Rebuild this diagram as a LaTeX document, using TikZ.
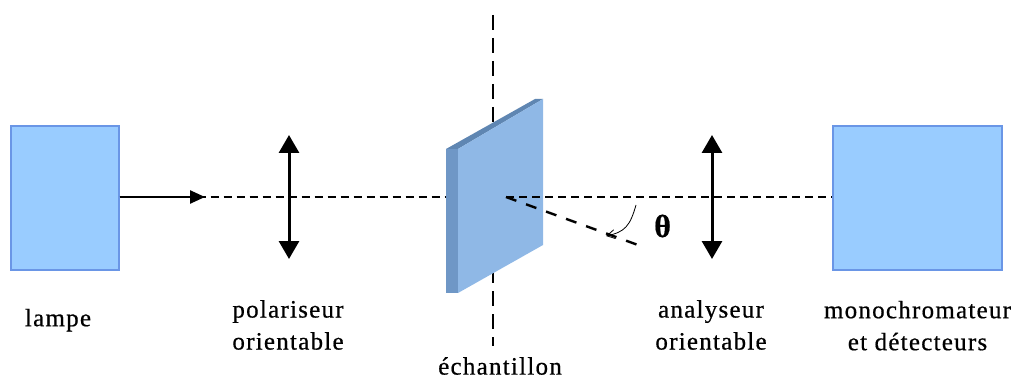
\documentclass[tikz,border=0pt]{standalone}
\usepackage{fontspec}
\setmainfont{Liberation Serif}[LetterSpace=5,FakeBold=0.6]
\usetikzlibrary{arrows.meta,positioning}

\definecolor{boxfill}{HTML}{99CCFF}
\definecolor{boxline}{HTML}{6A96E6}
\definecolor{platefront}{HTML}{8FB8E6}
\definecolor{plateside}{HTML}{6F97C6}
\definecolor{platetop}{HTML}{5F86B2}

\begin{document}
\begin{tikzpicture}[
    x=1pt, y=-1pt,
    every node/.style={font=\fontsize{25}{32}\selectfont, align=center, inner sep=0pt},
    bluebox/.style={rectangle, draw=boxline, fill=boxfill, line width=1.3pt, minimum height=144pt},
    axisline/.style={dash pattern=on 8pt off 5pt, line width=1.3pt},
    normalline/.style={dash pattern=on 15pt off 8pt, line width=2.8pt},
    tiltline/.style={dash pattern=on 11pt off 10.3pt, line width=2.4pt},
    polarrow/.style={{Triangle[length=18pt,width=20pt]}-{Triangle[length=18pt,width=20pt]}, line width=3pt},
]
\useasboundingbox (0,0) rectangle (1016,379);

% ===== Boxes =====
\node[bluebox, minimum width=108pt] (lamp) at (65,198) {};
\node[bluebox, minimum width=169pt] (mono) at (917.5,198) {};

% ===== Fixed points =====
\coordinate (cen) at (506,197);
\coordinate (platein) at (446,197);
\coordinate (pol) at (289,197);
\coordinate (ana) at (712,197);
\coordinate (normtop) at (493,15);
\coordinate (normbot) at (493,346);
\coordinate (tiltend) at (638,245);
\coordinate (raytip) at (205,197);
\coordinate (angstart) at (636,205);
\coordinate (angend) at (606,236);
\coordinate[above=62pt of pol] (poltop);
\coordinate[below=62pt of pol] (polbot);
\coordinate[above=62pt of ana] (anatop);
\coordinate[below=62pt of ana] (anabot);

% Lines behind the sample
\draw[normalline] (normtop) -- (normbot);
\draw[axisline] (lamp.east |- cen) -- (platein);

% ===== Sample =====
\fill[plateside] (446,149) -- (458,149) -- (458,293) -- (446,293) -- cycle;
\fill[platetop] (446,149) -- (535,99) -- (543,99) -- (458,149) -- cycle;
\fill[platefront] (458,149) -- (543,99) -- (543,245) -- (458,293) -- cycle;

% Lines in front of the sample
\draw[axisline] (cen) -- (mono.west |- cen);
\draw[tiltline] (cen) -- (tiltend);
\draw[-{Straight Barb[length=8pt,width=9pt]}, line width=0.8pt] (angstart) .. controls (630,226) and (625,232) .. (angend);
\draw[-{Triangle[length=15pt,width=13pt]}, line width=2.4pt] (lamp.east |- cen) -- (raytip);

% ===== Polariser and analyser =====
\draw[polarrow] (poltop) -- (polbot);
\draw[polarrow] (anatop) -- (anabot);

% ===== Labels =====
\node[below=38pt of lamp, xshift=-7pt] (lampelbl) {lampe};
\node[below=41pt of polbot, xshift=-1pt] (pollbl) {polariseur\\orientable};
\node[below=41pt of anabot, xshift=-1pt] (analbl) {analyseur\\orientable};
\node[below=30pt of mono] (monolbl) {monochromateur\\et détecteurs};
\node[below=11pt of normbot, xshift=7pt] (samplelbl) {échantillon};
\node[right=16pt of tiltend, yshift=19pt] (thetalbl) {\fontsize{32}{32}\selectfont\bfseries θ};
\end{tikzpicture}
\end{document}
